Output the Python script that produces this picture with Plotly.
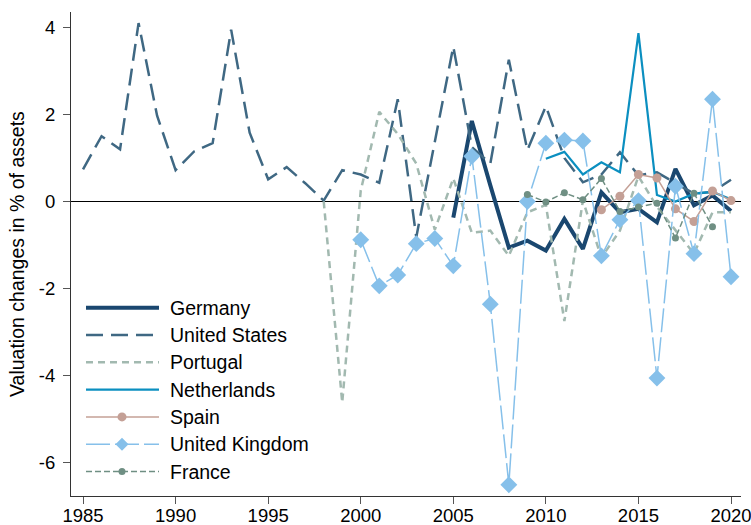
import plotly.graph_objects as go

# Valuation changes in % of assets, by country and year
YEARS_US = list(range(1985, 2021))
US = [0.74, 1.50, 1.20, 4.10, 1.97, 0.72, 1.15, 1.34, 3.95, 1.58, 0.51, 0.79, 0.42, 0.02,
      0.72, 0.62, 0.43, 2.35, -0.82, 1.40, 3.56, 1.25, 0.87, 3.26, 1.18, 2.19, 1.00, 0.44,
      0.62, 1.13, 0.60, 0.67, 0.42, 0.18, 0.22, 0.50]

YEARS_DE = list(range(2005, 2021))
GERMANY = [-0.37, 1.85, 0.37, -1.06, -0.90, -1.13, -0.40, -1.09, 0.21, -0.25, -0.17,
           -0.48, 0.75, -0.09, 0.14, -0.22]

YEARS_PT = list(range(1998, 2021))
PORTUGAL = [0.0, -4.62, 0.25, 2.06, 1.55, 0.87, -0.65, 0.53, -0.72, -0.67, -1.25, -0.25,
            -0.08, -2.75, 0.02, -1.29, -0.67, 0.58, -0.12, -0.67, -1.20, -0.25, -0.25]

YEARS_NL = list(range(2010, 2021))
NETHERLANDS = [0.98, 1.14, 0.62, 0.90, 0.67, 3.87, 0.15, 0.0, 0.18, 0.22, 0.05]

YEARS_ES = list(range(2013, 2021))
SPAIN = [-0.19, 0.12, 0.62, 0.54, -0.17, -0.46, 0.24, 0.02]

YEARS_UK = list(range(2000, 2021))
UK = [-0.88, -1.94, -1.69, -0.97, -0.85, -1.48, 1.04, -2.36, -6.51, 0.0, 1.34, 1.41,
      1.39, -1.25, -0.42, 0.02, -4.06, 0.35, -1.20, 2.35, -1.73]

YEARS_FR = list(range(2009, 2020))
FRANCE = [0.16, -0.01, 0.20, 0.04, 0.53, -0.23, -0.13, -0.04, -0.84, 0.19, -0.58]

X_TICKS = [1985, 1990, 1995, 2000, 2005, 2010, 2015, 2020]
Y_TICKS = [4, 2, 0, -2, -4, -6]
Y_TICK_LABELS = ["4", "2", "0", "-2", "-4", "-6"]  # plain hyphen, as in Stata

FONT = "Liberation Sans, Arial, sans-serif"

# name, x, y, colour, line width, dash, marker symbol, marker size
SERIES = [
    ("Germany", YEARS_DE, GERMANY, "#1a476f", 4, "solid", None, 0),
    ("United States", YEARS_US, US, "#3f6883", 2.5, "17px,8px", None, 0),
    ("Portugal", YEARS_PT, PORTUGAL, "#a2b9b0", 2.5, "7px,5px", None, 0),
    ("Netherlands", YEARS_NL, NETHERLANDS, "#0b8fc0", 2.2, "solid", None, 0),
    ("Spain", YEARS_ES, SPAIN, "#c4a096", 1.5, "solid", "circle", 9),
    ("United Kingdom", YEARS_UK, UK, "#86c0ea", 1.5, "24px,5px", "diamond", 13),
    ("France", YEARS_FR, FRANCE, "#6f8f83", 1.5, "6px,3px", "circle", 7),
]

fig = go.Figure()

for name, xs, ys, colour, width, dash, symbol, msize in SERIES:
    fig.add_trace(go.Scatter(
        x=xs, y=ys, name=name,
        mode="lines+markers" if symbol else "lines",
        line=dict(color=colour, width=width, dash=dash),
        marker=dict(symbol=symbol or "circle", size=msize, color=colour),
        showlegend=False,
    ))

# Stata-style legend drawn in the lower left of the plot area
PLOT_W, PLOT_H = 670, 484
LEG_TOP, LEG_STEP = 307.7 - 12, 27.3  # px from plot top
for i, (name, xs, ys, colour, width, dash, symbol, msize) in enumerate(SERIES):
    yy = 1 - (LEG_TOP + i * LEG_STEP) / PLOT_H
    fig.add_shape(type="line", xref="paper", yref="paper",
                  x0=15 / PLOT_W, x1=88 / PLOT_W, y0=yy, y1=yy,
                  line=dict(color=colour, width=width, dash=dash))
    if symbol == "circle":
        r = msize / 2
        fig.add_shape(type="circle", xref="paper", yref="paper",
                      xsizemode="pixel", ysizemode="pixel",
                      xanchor=51 / PLOT_W, yanchor=yy,
                      x0=-r, x1=r, y0=-r, y1=r,
                      fillcolor=colour, line=dict(width=0))
    elif symbol == "diamond":
        r = msize / 2
        fig.add_shape(type="path", xref="paper", yref="paper",
                      xsizemode="pixel", ysizemode="pixel",
                      xanchor=51 / PLOT_W, yanchor=yy,
                      path=f"M{-r},0 L0,{r} L{r},0 L0,{-r} Z",
                      fillcolor=colour, line=dict(width=0))
    fig.add_annotation(x=97 / PLOT_W, y=yy, xref="paper", yref="paper",
                       text=name, showarrow=False, xanchor="left", yanchor="middle",
                       font=dict(size=19.5, family=FONT, color="#000000"))

fig.add_annotation(x=-54 / PLOT_W, y=0.5, xref="paper", yref="paper",
                   text="Valuation changes in % of assets", textangle=-90,
                   showarrow=False, xanchor="center", yanchor="middle",
                   font=dict(size=19.5, family=FONT, color="#000000"))

fig.update_layout(
    width=751, height=525,
    margin=dict(l=71, r=10, t=12, b=29),
    plot_bgcolor="white",
    paper_bgcolor="white",
    font=dict(family=FONT, size=18.5, color="#000000"),
    showlegend=False,
    xaxis=dict(range=[1984.35, 2020.54], tickvals=X_TICKS, ticks="outside",
               ticklen=7, tickcolor="#555", showline=True, linecolor="#333",
               linewidth=1, showgrid=False, zeroline=False, automargin=False,
               tickfont=dict(size=18.5), ticklabeloverflow="allow",
               ticklabelstandoff=-4),
    yaxis=dict(range=[-6.77, 4.355], tickvals=Y_TICKS, ticktext=Y_TICK_LABELS,
               ticks="outside", ticklen=7, tickcolor="#555", showline=True,
               linecolor="#333", linewidth=1, showgrid=False, zeroline=True,
               zerolinecolor="black", zerolinewidth=1, automargin=False,
               tickfont=dict(size=18.5), ticklabelstandoff=4,
               ticklabeloverflow="allow"),
)

fig.write_html("out.html", config={"displayModeBar": False},
               post_script="document.body.style.margin='0';")
